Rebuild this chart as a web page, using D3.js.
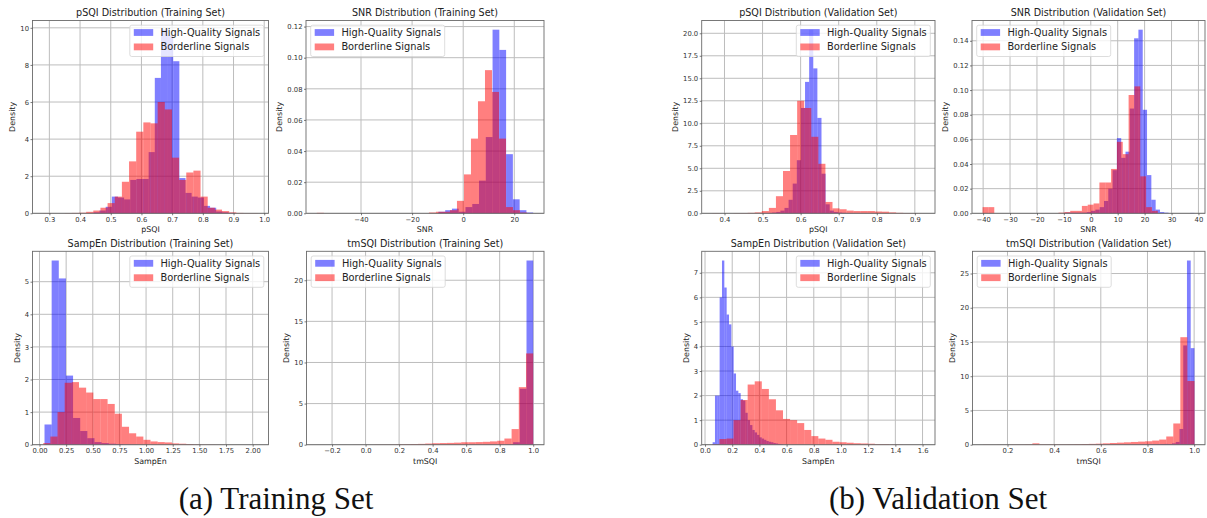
<!DOCTYPE html>
<html>
<head>
<meta charset="utf-8">
<script src="https://cdn.jsdelivr.net/npm/d3@7"></script>
<style>
body { margin: 0; background: #fff; }
svg text { font-family: "DejaVu Sans", sans-serif; }
</style>
</head>
<body>
<div id="vis-svg"></div>
<script>
// histogram densities: each series has a first bin edge,
// a bin width and one density per bin

// --- training set ---
var psqiTrainHQStart = 0.4435, psqiTrainHQWidth = 0.02;
var psqiTrainHQ = [0.05, 0.15, 0.35, 0.9, 0.85, 0.75, 1.8, 1.85, 1.85, 3.3, 7.3, 9.9, 9.6, 8.2, 1.9, 1.1, 0.9, 0.85, 0.4, 0.3, 0.1, 0.05, 0.02];
var psqiTrainBLStart = 0.28, psqiTrainBLWidth = 0.0233;
var psqiTrainBL = [0.01, 0, 0, 0.01, 0.02, 0.03, 0.08, 0.15, 0.3, 0.55, 0.9, 1.7, 2.8, 4.4, 4.9, 4.85, 6.0, 5.6, 3.0, 1.8, 2.2, 2.3, 0.9, 0.3, 0.2, 0.12, 0.05, 0.02, 0.01, 0.01];

var snrTrainHQStart = -9.7, snrTrainHQWidth = 2.65;
var snrTrainHQ = [0.001, 0.002, 0.003, 0.001, 0.004, 0.006, 0.021, 0.049, 0.118, 0.105, 0.038, 0.009, 0.002, 0.0005];
var snrTrainBLStart = -57.3, snrTrainBLWidth = 2.743;
var snrTrainBL = [0.0003, 0, 0, 0, 0, 0, 0, 0, 0, 0, 0, 0, 0, 0, 0, 0, 0.0005, 0.001, 0.001, 0.002, 0.008, 0.025, 0.048, 0.072, 0.092, 0.078, 0.048, 0.004, 0.002, 0.0005];

var sampenTrainHQStart = 0.047, sampenTrainHQWidth = 0.067;
var sampenTrainHQ = [0.62, 5.65, 5.1, 2.12, 0.82, 0.42, 0.2, 0.08, 0.05, 0.03, 0.02, 0.01, 0.005];
var sampenTrainBLStart = 0.035, sampenTrainBLWidth = 0.0671;
var sampenTrainBL = [0.05, 0.25, 1.0, 1.9, 1.92, 1.75, 1.6, 1.4, 1.4, 1.25, 0.95, 0.55, 0.35, 0.25, 0.15, 0.1, 0.08, 0.07, 0.04, 0.03, 0.02, 0.01, 0.005, 0.005, 0.003, 0.002, 0.001, 0.001, 0.001, 0.001];

var tmsqiTrainHQStart = -0.2, tmsqiTrainHQWidth = 0.04;
var tmsqiTrainHQ = [0.002, 0, 0, 0, 0, 0, 0, 0, 0, 0, 0, 0, 0, 0, 0, 0, 0, 0, 0, 0, 0.01, 0.01, 0.01, 0.02, 0.02, 0.03, 0.05, 0.3, 6.8, 22.4];
var tmsqiTrainBLStart = -0.288, tmsqiTrainBLWidth = 0.04293;
var tmsqiTrainBL = [0.005, 0, 0, 0.01, 0, 0.01, 0.01, 0.01, 0.02, 0.02, 0.03, 0.05, 0.06, 0.08, 0.1, 0.14, 0.18, 0.2, 0.22, 0.25, 0.3, 0.3, 0.32, 0.35, 0.4, 0.48, 0.75, 1.9, 7.0, 11.1];

// --- validation set ---
var psqiValHQStart = 0.5036, psqiValHQWidth = 0.0108;
var psqiValHQ = [0.02, 0.04, 0.08, 0.15, 0.3, 0.6, 1.5, 3.3, 5.9, 11.7, 14.6, 20.4, 16.1, 10.6, 4.4, 1.0, 0.3, 0.15, 0.08, 0.05, 0.03, 0.02, 0.01, 0.01, 0.01, 0.005, 0.005, 0.005, 0, 0.005];
var psqiValBLStart = 0.368, psqiValBLWidth = 0.01857;
var psqiValBL = [0.02, 0, 0, 0.02, 0.03, 0.05, 0.1, 0.25, 0.6, 1.9, 4.7, 8.7, 12.5, 11.7, 8.5, 5.5, 1.26, 0.55, 0.45, 0.3, 0.25, 0.25, 0.25, 0.2, 0.18, 0.1, 0.05, 0.03, 0.02, 0.01];

var snrValHQStart = -9.5, snrValHQWidth = 1.6;
var snrValHQ = [0.0005, 0.0005, 0.0005, 0.0005, 0.0005, 0.001, 0.002, 0.003, 0.005, 0.01, 0.02, 0.035, 0.061, 0.045, 0.05, 0.085, 0.142, 0.149, 0.084, 0.031, 0.011, 0.003, 0.001, 0.0005, 0, 0, 0, 0, 0, 0.0003];
var snrValBLStart = -40.2, snrValBLWidth = 2.17;
var snrValBL = [0.005, 0.005, 0, 0, 0, 0, 0, 0, 0, 0, 0, 0, 0, 0.0005, 0.001, 0.002, 0.002, 0.006, 0.007, 0.008, 0.025, 0.025, 0.036, 0.058, 0.048, 0.096, 0.103, 0.03, 0.005, 0.002];

var sampenValHQStart = 0.056, sampenValHQWidth = 0.0172;
var sampenValHQ = [0.1, 2.0, 2.0, 6.0, 7.5, 6.4, 5.3, 4.9, 4.0, 2.9, 2.2, 2.1, 1.85, 1.8, 1.3, 1.0, 0.8, 0.6, 0.5, 0.4, 0.3, 0.25, 0.2, 0.15, 0.12, 0.1, 0.07, 0.05, 0.03, 0.02];
var sampenValBLStart = 0.0536, sampenValBLWidth = 0.052;
var sampenValBL = [0.02, 0.23, 0.25, 1.0, 1.82, 2.45, 2.58, 2.27, 1.85, 1.4, 1.05, 1.0, 0.88, 0.6, 0.35, 0.25, 0.2, 0.12, 0.1, 0.08, 0.06, 0.05, 0.04, 0.02, 0.02, 0.01, 0.01, 0.005, 0.003, 0.003];

var tmsqiValHQStart = 0.5213, tmsqiValHQWidth = 0.016;
var tmsqiValHQ = [0.01, 0.01, 0.01, 0.01, 0.01, 0.01, 0.01, 0.01, 0.02, 0.02, 0.02, 0.03, 0.03, 0.03, 0.04, 0.04, 0.05, 0.05, 0.06, 0.07, 0.08, 0.1, 0.12, 0.1, 0.2, 0.4, 2.3, 14.5, 26.9, 14.1];
var tmsqiValBLStart = 0.0953, tmsqiValBLWidth = 0.0302;
var tmsqiValBL = [0.02, 0.01, 0.02, 0.02, 0.03, 0.03, 0.05, 0.2, 0.05, 0.04, 0.05, 0.05, 0.06, 0.08, 0.1, 0.12, 0.15, 0.2, 0.25, 0.3, 0.35, 0.4, 0.45, 0.5, 0.6, 0.75, 1.2, 3.1, 15.7, 9.3];

// tick values as printed on the axes
var ticksPsqiTrainX = [0.3, 0.4, 0.5, 0.6, 0.7, 0.8, 0.9, 1.0];
var ticksPsqiTrainY = [0, 2, 4, 6, 8, 10];
var ticksSnrTrainX = [-40, -20, 0, 20];
var ticksSnrTrainY = [0, 0.02, 0.04, 0.06, 0.08, 0.10, 0.12];
var ticksSampenTrainX = [0, 0.25, 0.5, 0.75, 1.0, 1.25, 1.5, 1.75, 2.0];
var ticksSampenTrainY = [0, 1, 2, 3, 4, 5];
var ticksTmsqiTrainX = [-0.2, 0, 0.2, 0.4, 0.6, 0.8, 1.0];
var ticksTmsqiTrainY = [0, 5, 10, 15, 20];
var ticksPsqiValX = [0.4, 0.5, 0.6, 0.7, 0.8, 0.9];
var ticksPsqiValY = [0, 2.5, 5, 7.5, 10, 12.5, 15, 17.5, 20];
var ticksSnrValX = [-40, -30, -20, -10, 0, 10, 20, 30, 40];
var ticksSnrValY = [0, 0.02, 0.04, 0.06, 0.08, 0.10, 0.12, 0.14];
var ticksSampenValX = [0, 0.2, 0.4, 0.6, 0.8, 1.0, 1.2, 1.4, 1.6];
var ticksSampenValY = [0, 1, 2, 3, 4, 5, 6, 7];
var ticksTmsqiValX = [0.2, 0.4, 0.6, 0.8, 1.0];
var ticksTmsqiValY = [0, 5, 10, 15, 20, 25];

var seriesNames = ["High-Quality Signals", "Borderline Signals"];
var captions = ["(a) Training Set", "(b) Validation Set"];

var width = 1207;
var height = 518;

var svg = d3
.select("#vis-svg")
.append("svg")
.attr("width", width)
.attr("height", height);

function bins(start, w, vals) {
  return vals.map(function(v, i) {
    return {x0: start + i * w, x1: start + (i + 1) * w, v: v};
  });
}

// box = [left, top, right, bottom] of the plotting area
var panels = [
  {title: "pSQI Distribution (Training Set)", xlabel: "pSQI", box: [32.5, 20.5, 268.5, 213.3], legend: "right",
   hq: bins(psqiTrainHQStart, psqiTrainHQWidth, psqiTrainHQ), bl: bins(psqiTrainBLStart, psqiTrainBLWidth, psqiTrainBL),
   xt: ticksPsqiTrainX, yt: ticksPsqiTrainY, xf: ".1f", yf: "d"},
  {title: "SNR Distribution (Training Set)", xlabel: "SNR", box: [306, 20.5, 544, 213.3], legend: "left",
   hq: bins(snrTrainHQStart, snrTrainHQWidth, snrTrainHQ), bl: bins(snrTrainBLStart, snrTrainBLWidth, snrTrainBL),
   xt: ticksSnrTrainX, yt: ticksSnrTrainY, xf: "d", yf: ".2f"},
  {title: "SampEn Distribution (Training Set)", xlabel: "SampEn", box: [32.5, 251.3, 268.5, 444.7], legend: "right",
   hq: bins(sampenTrainHQStart, sampenTrainHQWidth, sampenTrainHQ), bl: bins(sampenTrainBLStart, sampenTrainBLWidth, sampenTrainBL),
   xt: ticksSampenTrainX, yt: ticksSampenTrainY, xf: ".2f", yf: "d"},
  {title: "tmSQI Distribution (Training Set)", xlabel: "tmSQI", box: [306.5, 251.3, 544, 444.7], legend: "left",
   hq: bins(tmsqiTrainHQStart, tmsqiTrainHQWidth, tmsqiTrainHQ), bl: bins(tmsqiTrainBLStart, tmsqiTrainBLWidth, tmsqiTrainBL),
   xt: ticksTmsqiTrainX, yt: ticksTmsqiTrainY, xf: ".1f", yf: "d"},
  {title: "pSQI Distribution (Validation Set)", xlabel: "pSQI", box: [701.7, 20.5, 935, 213.3], legend: "right",
   hq: bins(psqiValHQStart, psqiValHQWidth, psqiValHQ), bl: bins(psqiValBLStart, psqiValBLWidth, psqiValBL),
   xt: ticksPsqiValX, yt: ticksPsqiValY, xf: ".1f", yf: ".1f"},
  {title: "SNR Distribution (Validation Set)", xlabel: "SNR", box: [972, 20.5, 1205, 213.3], legend: "left",
   hq: bins(snrValHQStart, snrValHQWidth, snrValHQ), bl: bins(snrValBLStart, snrValBLWidth, snrValBL),
   xt: ticksSnrValX, yt: ticksSnrValY, xf: "d", yf: ".2f"},
  {title: "SampEn Distribution (Validation Set)", xlabel: "SampEn", box: [701.7, 251.3, 935, 444.7], legend: "right",
   hq: bins(sampenValHQStart, sampenValHQWidth, sampenValHQ), bl: bins(sampenValBLStart, sampenValBLWidth, sampenValBL),
   xt: ticksSampenValX, yt: ticksSampenValY, xf: ".1f", yf: "d"},
  {title: "tmSQI Distribution (Validation Set)", xlabel: "tmSQI", box: [972.5, 251.3, 1205, 444.7], legend: "left",
   hq: bins(tmsqiValHQStart, tmsqiValHQWidth, tmsqiValHQ), bl: bins(tmsqiValBLStart, tmsqiValBLWidth, tmsqiValBL),
   xt: ticksTmsqiValX, yt: ticksTmsqiValY, xf: ".1f", yf: "d"}
];

panels.forEach(drawPanel);

function drawPanel(p) {
  var L = p.box[0], T = p.box[1], R = p.box[2], B = p.box[3];
  var all = p.hq.concat(p.bl);
  var lo = d3.min(all, function(d) { return d.x0; });
  var hi = d3.max(all, function(d) { return d.x1; });
  var pad = (hi - lo) * 0.05;

  var x = d3.scaleLinear().domain([lo - pad, hi + pad]).range([L, R]);
  var y = d3.scaleLinear()
  .domain([0, d3.max(all, function(d) { return d.v; }) * 1.05])
  .range([B, T]);

  var g = svg.append("g");

  // grid
  g.selectAll(".gx").data(p.xt).enter().append("line")
  .attr("x1", function(d) { return x(d); }).attr("x2", function(d) { return x(d); })
  .attr("y1", T).attr("y2", B)
  .attr("stroke", "#bdbdbd").attr("stroke-width", 1);
  g.selectAll(".gy").data(p.yt).enter().append("line")
  .attr("x1", L).attr("x2", R)
  .attr("y1", function(d) { return y(d); }).attr("y2", function(d) { return y(d); })
  .attr("stroke", "#bdbdbd").attr("stroke-width", 1);

  // bars, high-quality first then borderline on top
  [[p.hq, "blue"], [p.bl, "red"]].forEach(function(s) {
    g.append("g").selectAll("rect")
    .data(s[0].filter(function(d) { return d.v > 0; }))
    .enter()
    .append("rect")
    .attr("x", function(d) { return x(d.x0); })
    .attr("width", function(d) { return x(d.x1) - x(d.x0); })
    .attr("y", function(d) { return y(d.v); })
    .attr("height", function(d) { return y(0) - y(d.v); })
    .attr("fill", s[1])
    .attr("fill-opacity", 0.5);
  });

  // frame
  g.append("rect")
  .attr("x", L).attr("y", T).attr("width", R - L).attr("height", B - T)
  .attr("fill", "none").attr("stroke", "#6b6b6b").attr("stroke-width", 0.9);

  // axes
  var xa = g.append("g")
  .attr("transform", "translate(0," + B + ")")
  .call(d3.axisBottom(x).tickValues(p.xt).tickFormat(d3.format(p.xf)).tickSize(2).tickPadding(1.5));
  var ya = g.append("g")
  .attr("transform", "translate(" + L + ",0)")
  .call(d3.axisLeft(y).tickValues(p.yt).tickFormat(d3.format(p.yf)).tickSize(2).tickPadding(1.5));
  [xa, ya].forEach(function(a) {
    a.select(".domain").remove();
    a.selectAll("line").attr("stroke", "#444").attr("stroke-width", 0.7);
    a.selectAll("text").attr("fill", "#333").style("font-size", "6.8px").style("font-family", "DejaVu Sans");
  });

  // title and labels
  g.append("text")
  .attr("x", (L + R) / 2).attr("y", T - 4.3)
  .attr("text-anchor", "middle")
  .style("font-size", "9.6px").attr("fill", "#222")
  .text(p.title);

  g.append("text")
  .attr("x", (L + R) / 2).attr("y", B + 18.8)
  .attr("text-anchor", "middle")
  .style("font-size", "7.9px").attr("fill", "#222")
  .text(p.xlabel);

  var yw = ya.node().getBBox().width;
  g.append("text")
  .attr("transform", "translate(" + (L - yw - 5) + "," + ((T + B) / 2) + ") rotate(-90)")
  .attr("text-anchor", "middle")
  .style("font-size", "7.9px").attr("fill", "#222")
  .text("Density");

  // legend
  var lw = 134, lh = 31.3;
  var lx = p.legend === "left" ? L + 4.7 : R - 4.7 - lw;
  var ly = T + 4.7;
  var leg = g.append("g").attr("transform", "translate(" + lx + "," + ly + ")");
  leg.append("rect")
  .attr("width", lw).attr("height", lh).attr("rx", 2)
  .attr("fill", "#fff").attr("fill-opacity", 0.8)
  .attr("stroke", "#d4d4d4").attr("stroke-width", 0.8);
  seriesNames.forEach(function(name, i) {
    var cy = 7.3 + i * 14.4;
    leg.append("rect")
    .attr("x", 4).attr("y", cy - 3.4).attr("width", 19.4).attr("height", 6.8)
    .attr("fill", i === 0 ? "blue" : "red").attr("fill-opacity", 0.5);
    leg.append("text")
    .attr("x", 30.7).attr("y", cy + 3.4)
    .style("font-size", "9.8px").attr("fill", "#222")
    .text(name);
  });
}

// sub-figure captions
svg.selectAll(".caption")
.data(captions)
.enter()
.append("text")
.attr("class", "caption")
.attr("x", function(d, i) { return i === 0 ? 276 : 938; })
.attr("y", 509)
.attr("text-anchor", "middle")
.style("font-family", "'Liberation Serif', serif")
.style("font-size", "31px")
.attr("fill", "#111")
.text(function(d) { return d; });
</script>
</body>
</html>
